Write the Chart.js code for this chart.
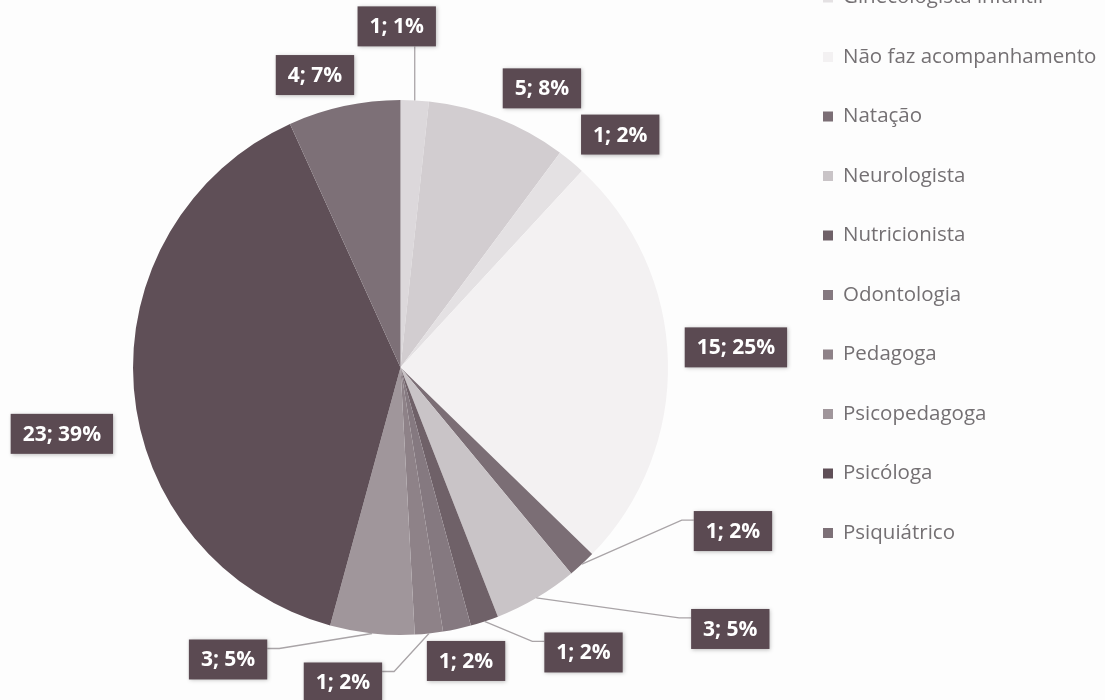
<!DOCTYPE html>
<html>

<head>
    <title>Acompanhamento</title>
    <script src="https://cdn.jsdelivr.net/npm/chart.js"></script>
    <style>
        body {
            margin: 0;
            background: #fdfdfd;
        }

        #wrap {
            width: 1105px;
            height: 700px;
            position: relative;
        }
    </style>
</head>

<body>
    <div id="wrap">
        <canvas id="myChart"></canvas>
    </div>

    <script>
        // data (legend order = slice order, clockwise from 12 o'clock)
        const categories = [
            'Fisioterapeuta', 'Fonoaudióloga', 'Ginecologista infantil', 'Não faz acompanhamento',
            'Natação', 'Neurologista', 'Nutricionista', 'Odontologia',
            'Pedagoga', 'Psicopedagoga', 'Psicóloga', 'Psiquiátrico'
        ];
        const counts = [1, 5, 1, 15, 1, 3, 1, 1, 1, 3, 23, 4];
        const percents = [1, 8, 2, 25, 2, 5, 2, 2, 2, 5, 39, 7];

        const sliceColors = [
            '#dcd8db', '#d2cdd0', '#e4e1e3', '#f3f1f2',
            '#7b6e75', '#c9c4c7', '#6f6168', '#857980',
            '#8e8288', '#a0969b', '#5f4f57', '#7d7077'
        ];

        // label box offsets from the outer edge of each slice (dx, dy) and whether a leader line is drawn
        const labelOffsets = [
            [-18, -74], [44, -30], [49, -27], [68, -13],
            [151, -33], [194, 31], [99, 31], [9, 32],
            [-86, 49], [-144, 26], [-72, 45], [-29, -31]
        ];
        const hasLeader = [true, false, false, false, true, true, true, false, true, true, false, false];

        const dataLabels = {
            id: 'dataLabels',
            afterDatasetsDraw(chart) {
                const c = chart.ctx;
                const meta = chart.getDatasetMeta(0);
                c.save();
                c.font = 'bold 21px "Open Sans"';
                c.textAlign = 'center';
                c.textBaseline = 'middle';
                meta.data.forEach((arc, i) => {
                    const mid = (arc.startAngle + arc.endAngle) / 2;
                    const ax = arc.x + arc.outerRadius * Math.cos(mid);
                    const ay = arc.y + arc.outerRadius * Math.sin(mid);
                    const bx = ax + labelOffsets[i][0];
                    const by = ay + labelOffsets[i][1];
                    const txt = counts[i] + '; ' + percents[i] + '%';
                    const w = c.measureText(txt).width + 24;
                    const h = 40;
                    const left = bx - w / 2, top = by - h / 2;

                    if (hasLeader[i]) {
                        c.strokeStyle = '#a9a4a7';
                        c.lineWidth = 1.3;
                        c.beginPath();
                        c.moveTo(ax, ay);
                        if (Math.abs(ax - bx) < w / 2) {
                            c.lineTo(ax, ay < by ? top : top + h);
                        } else if (bx > ax) {
                            c.lineTo(left - 12, top + 9);
                            c.lineTo(left, top + 9);
                        } else {
                            c.lineTo(left + w + 12, top + 9);
                            c.lineTo(left + w, top + 9);
                        }
                        c.stroke();
                    }

                    c.shadowColor = 'rgba(0,0,0,0.25)';
                    c.shadowBlur = 4;
                    c.shadowOffsetX = 1;
                    c.shadowOffsetY = 1;
                    c.fillStyle = '#5b4a52';
                    c.fillRect(left, top, w, h);
                    c.shadowColor = 'transparent';
                    c.fillStyle = '#ffffff';
                    c.fillText(txt, bx, by + 1);
                });
                c.restore();
            }
        };

        // legend on the right, first entries run off the top like in the scan
        const sideLegend = {
            id: 'sideLegend',
            afterDraw(chart) {
                const c = chart.ctx;
                const n = categories.length;
                c.save();
                c.font = '20.5px "Open Sans"';
                c.textBaseline = 'middle';
                c.textAlign = 'left';
                categories.forEach((name, i) => {
                    const y = 533 - (n - 1 - i) * 59.5;
                    c.fillStyle = sliceColors[i];
                    c.fillRect(823, y - 5, 10, 10);
                    c.fillStyle = '#747073';
                    c.fillText(name, 843, y);
                });
                c.restore();
            }
        };

        const ctx = document.getElementById('myChart').getContext('2d');
        const myChart = new Chart(ctx, {
            type: 'pie',
            data: {
                labels: categories,
                datasets: [{
                    data: counts,
                    backgroundColor: sliceColors,
                    borderWidth: 0
                }]
            },
            options: {
                responsive: true,
                maintainAspectRatio: false,
                animation: false,
                layout: {
                    padding: { top: 100, bottom: 65, left: 133, right: 437 }
                },
                plugins: {
                    legend: { display: false },
                    tooltip: { enabled: false }
                }
            },
            plugins: [dataLabels, sideLegend]
        });
    </script>
</body>

</html>
